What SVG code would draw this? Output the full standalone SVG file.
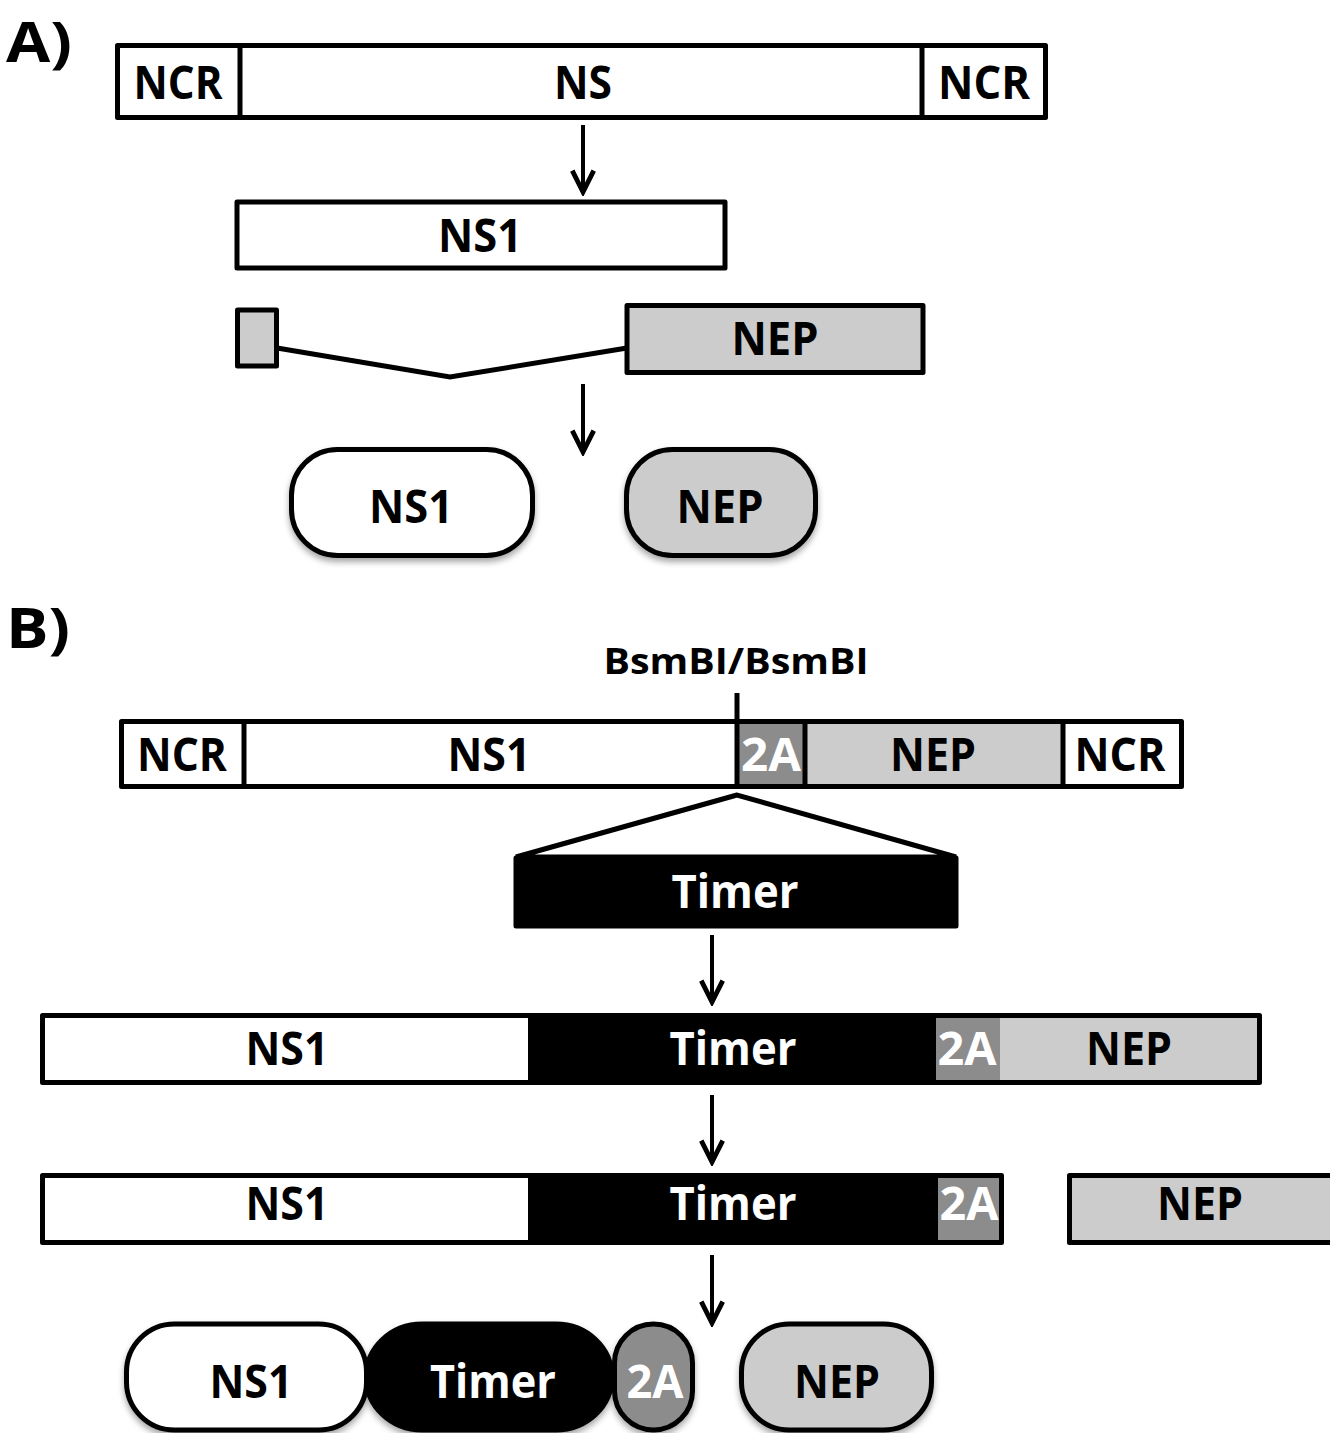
<svg xmlns="http://www.w3.org/2000/svg" width="1330" height="1433" viewBox="0 0 1330 1433">
<defs>
<style>
.t{font-family:"Open Sans","Liberation Sans",sans-serif;font-weight:bold;font-size:46px;text-anchor:middle;fill:#000}
.w{fill:#fff}
.lbl{font-size:56px;text-anchor:start}
.sm{font-size:35px}
.box{stroke:#000;stroke-width:5;stroke-linejoin:round}
.ln{stroke:#000;stroke-width:5;fill:none}
.arr{stroke:#000;stroke-width:4;fill:none;marker-end:url(#ah)}
.white{fill:#fff}.light{fill:#cccccc}.mid{fill:#8c8c8c}.black{fill:#000}
</style>
<marker id="ah" markerUnits="userSpaceOnUse" markerWidth="30" markerHeight="30" viewBox="-24 -14 28 28" refX="0" refY="0" orient="auto">
<path d="M-20,-10 L0,0 L-20,10" fill="none" stroke="#000" stroke-width="4.5"/>
</marker>
<filter id="sh" x="-10%" y="-10%" width="120%" height="130%">
<feDropShadow dx="0" dy="4" stdDeviation="3" flood-color="#000" flood-opacity="0.35"/>
</filter>
</defs>

<text class="t lbl" x="6" y="62" textLength="66" lengthAdjust="spacingAndGlyphs">A)</text>
<text class="t lbl" x="6" y="648" textLength="64" lengthAdjust="spacingAndGlyphs">B)</text>

<g id="gene-ns">
<rect class="box white" x="117.5" y="45.5" width="928" height="72"/>
<line class="ln" x1="240" y1="45" x2="240" y2="118"/>
<line class="ln" x1="922" y1="45" x2="922" y2="118"/>
<text class="t" x="178" y="99" textLength="89" lengthAdjust="spacingAndGlyphs">NCR</text>
<text class="t" x="583" y="99" textLength="58" lengthAdjust="spacingAndGlyphs">NS</text>
<text class="t" x="984" y="99" textLength="92" lengthAdjust="spacingAndGlyphs">NCR</text>
</g>

<g id="mrna-ns1">
<rect class="box white" x="237" y="202" width="488" height="66"/>
<text class="t" x="480" y="252" textLength="84" lengthAdjust="spacingAndGlyphs">NS1</text>
</g>

<g id="mrna-nep">
<rect class="box light" x="237.5" y="310" width="39" height="56"/>
<rect class="box light" x="627" y="305.5" width="296" height="67"/>
<polyline class="ln" points="277,348 450,377 627,348"/>
<text class="t" x="775" y="355" textLength="87" lengthAdjust="spacingAndGlyphs">NEP</text>
</g>

<g id="prot-ns1-a">
<rect class="box white" filter="url(#sh)" x="291.5" y="449.5" width="241" height="106" rx="46"/>
<text class="t" x="411" y="523" textLength="84" lengthAdjust="spacingAndGlyphs">NS1</text>
</g>

<g id="prot-nep-a">
<rect class="box light" filter="url(#sh)" x="626.5" y="449.5" width="189" height="106" rx="46"/>
<text class="t" x="720" y="523" textLength="87" lengthAdjust="spacingAndGlyphs">NEP</text>
</g>

<g id="bsmbi">
<text class="t sm" x="736" y="674" textLength="265" lengthAdjust="spacingAndGlyphs">BsmBI/BsmBI</text>
<line class="ln" x1="737" y1="693" x2="737" y2="722"/>
</g>

<g id="construct-b">
<rect class="white" x="121" y="722" width="1061" height="64"/>
<rect class="mid" x="737" y="722" width="68" height="64"/>
<rect class="light" x="805" y="722" width="258" height="64"/>
<rect class="box" fill="none" x="121.5" y="721.5" width="1060" height="65"/>
<line class="ln" x1="244" y1="721" x2="244" y2="787"/>
<line class="ln" x1="737" y1="721" x2="737" y2="787"/>
<line class="ln" x1="805" y1="721" x2="805" y2="787"/>
<line class="ln" x1="1063" y1="721" x2="1063" y2="787"/>
<text class="t" x="182" y="771" textLength="90" lengthAdjust="spacingAndGlyphs">NCR</text>
<text class="t" x="489" y="771" textLength="83" lengthAdjust="spacingAndGlyphs">NS1</text>
<text class="t w" x="771" y="771" textLength="60" lengthAdjust="spacingAndGlyphs">2A</text>
<text class="t" x="933" y="771" textLength="86" lengthAdjust="spacingAndGlyphs">NEP</text>
<text class="t" x="1120" y="771" textLength="91" lengthAdjust="spacingAndGlyphs">NCR</text>
</g>

<g id="timer-insert">
<polygon class="ln" fill="#fff" points="737,795 516,857 956,857"/>
<rect class="box black" x="516" y="858" width="440" height="68"/>
<text class="t w" x="735" y="908" textLength="127" lengthAdjust="spacingAndGlyphs">Timer</text>
</g>

<g id="fusion-row">
<rect class="white" x="44" y="1016" width="484" height="66"/>
<rect class="black" x="528" y="1016" width="408" height="66"/>
<rect class="mid" x="936" y="1016" width="64" height="66"/>
<rect class="light" x="1000" y="1016" width="258" height="66"/>
<rect class="box" fill="none" x="42.5" y="1015.5" width="1217" height="67"/>
<text class="t" x="287" y="1065" textLength="83" lengthAdjust="spacingAndGlyphs">NS1</text>
<text class="t w" x="733" y="1065" textLength="127" lengthAdjust="spacingAndGlyphs">Timer</text>
<text class="t w" x="967" y="1065" textLength="59" lengthAdjust="spacingAndGlyphs">2A</text>
<text class="t" x="1129" y="1065" textLength="86" lengthAdjust="spacingAndGlyphs">NEP</text>
</g>

<g id="cleaved-row">
<rect class="white" x="44" y="1176" width="484" height="66"/>
<rect class="black" x="528" y="1176" width="410" height="66"/>
<rect class="mid" x="938" y="1176" width="62" height="66"/>
<rect class="box" fill="none" x="42.5" y="1175.5" width="959" height="67"/>
<text class="t" x="287" y="1220" textLength="83" lengthAdjust="spacingAndGlyphs">NS1</text>
<text class="t w" x="733" y="1220" textLength="127" lengthAdjust="spacingAndGlyphs">Timer</text>
<text class="t w" x="969" y="1220" textLength="59" lengthAdjust="spacingAndGlyphs">2A</text>
</g>

<g id="cleaved-nep">
<rect class="box light" x="1069.5" y="1175.5" width="265" height="67"/>
<text class="t" x="1200" y="1220" textLength="86" lengthAdjust="spacingAndGlyphs">NEP</text>
</g>

<g id="prot-timer">
<rect class="box black" filter="url(#sh)" x="366" y="1324" width="246" height="106" rx="56"/>
<text class="t w" x="493" y="1398" textLength="126" lengthAdjust="spacingAndGlyphs">Timer</text>
</g>
<g id="prot-ns1-b">
<rect class="box white" filter="url(#sh)" x="126.5" y="1324" width="240" height="106" rx="48"/>
<text class="t" x="251" y="1398" textLength="83" lengthAdjust="spacingAndGlyphs">NS1</text>
</g>
<g id="prot-2a">
<rect class="box mid" filter="url(#sh)" x="614.5" y="1324" width="78" height="106" rx="39"/>
<text class="t w" x="655" y="1398" textLength="57" lengthAdjust="spacingAndGlyphs">2A</text>
</g>
<g id="prot-nep-b">
<rect class="box light" filter="url(#sh)" x="741.5" y="1324" width="190" height="106" rx="48"/>
<text class="t" x="837" y="1398" textLength="86" lengthAdjust="spacingAndGlyphs">NEP</text>
</g>

<g id="connectors">
<line class="arr" x1="583" y1="125" x2="583" y2="192"/>
<line class="arr" x1="583" y1="384" x2="583" y2="452"/>
<line class="arr" x1="712" y1="935" x2="712" y2="1002"/>
<line class="arr" x1="712" y1="1095" x2="712" y2="1162"/>
<line class="arr" x1="712" y1="1255" x2="712" y2="1323"/>
</g>
</svg>
